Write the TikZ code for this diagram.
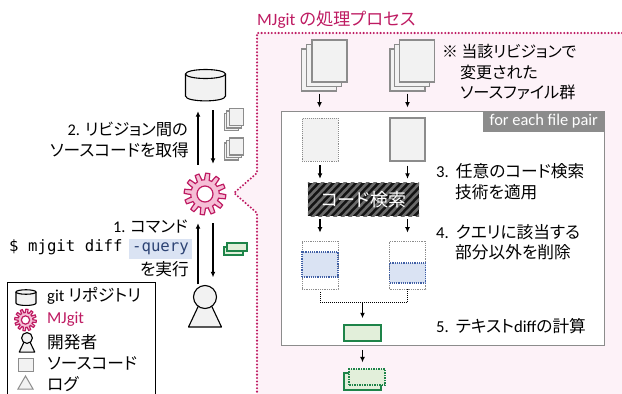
\documentclass[tikz,border=0pt]{standalone}
\usepackage{fontspec}
\setmainfont{Carlito}
\setmonofont{DejaVu Sans Mono}
\newfontfamily\jp[RawFeature=+palt]{Noto Sans CJK JP}
\usetikzlibrary{arrows.meta,shapes.geometric}
\definecolor{mjpink}{HTML}{BE1B62}
\definecolor{gearfill}{HTML}{F5BFD6}
\definecolor{procbg}{HTML}{FDF2F8}
\definecolor{docgray}{HTML}{8C8C8C}
\definecolor{docfill}{HTML}{F2F2F2}
\definecolor{qblue}{HTML}{3F5FA5}
\definecolor{qfill}{HTML}{DAE3F3}
\definecolor{dgreen}{HTML}{1E8449}
\definecolor{dfill}{HTML}{E2EFDA}
\tikzset{
	arr/.style={-{Latex[length=5.5pt,width=5pt]},line width=1.1pt},
	txt/.style={font=\fontsize{16.7}{18}\selectfont\jp,anchor=west,inner sep=0pt},
	txtr/.style={txt,anchor=east},
	docbox/.style={draw=docgray,fill=docfill,line width=1.1pt,minimum width=35pt,minimum height=42pt,inner sep=0pt},
	tinybox/.style={draw=docgray,fill=docfill,line width=1.4pt,minimum width=14.5pt,minimum height=17pt,inner sep=0pt},
	holedoc/.style={draw=docgray,densely dotted,line width=.8pt,minimum width=36pt,minimum height=48pt,inner sep=0pt},
	hitbox/.style={draw=qblue,fill=qfill,line width=1.2pt,densely dotted,minimum width=36pt,inner sep=0pt},
	diffbox/.style={draw=dgreen,fill=dfill,line width=1.5pt,inner sep=0pt},
	dbicon/.pic={
		\draw[fill=docfill,line width=1.1pt] (-20,-11) -- (-20,11) .. controls (-20,17.5) and (20,17.5) .. (20,11) -- (20,-11);
		\draw[fill=docfill,line width=1.1pt] (0,-11) ellipse[x radius=20,y radius=4.5];
	},
	gearicon/.pic={
		\draw[draw=mjpink,fill=gearfill,line width=1.2pt] plot[domain=0:360,samples=361,variable=\a] (\a:{17.5+3.3*max(-1,min(1,2.5*sin(12*\a)))}) -- cycle;
		\draw[draw=mjpink,fill=white,line width=1.2pt] (0,0) circle[radius=8];
	},
	personicon/.pic={
		\draw[fill=docfill,line width=1.1pt,line join=round] (0,-5) -- (16.5,30) -- (-16.5,30) -- cycle;
		\draw[fill=docfill,line width=1.1pt] (0,0) circle[radius=11.5];
	},
}
\begin{document}
\begin{tikzpicture}[x=1pt,y=-1pt]
\useasboundingbox (0,0) rectangle (622,394);
% process area
\fill[procbg] (257,33) -- (622,33) -- (622,394) -- (257,394) -- (257,213) -- (234,193) -- (257,173) -- cycle;
\draw[mjpink,line width=2.3pt,line cap=round,dash pattern=on 0pt off 3.4pt] (622,33) -- (257,33) -- (257,173) -- (234,193) -- (257,213) -- (257,394);
\node[anchor=west,inner sep=0pt,text=mjpink,font=\fontsize{17.3}{20}\selectfont] (proctitle) at (257,20) {MJgit {\jp の処理プロセス}};

% source files
\node[docbox] (srcAc) at (319,70) {};
\node[docbox] (srcAb) at (324,65.5) {};
\node[docbox] (srcAa) at (329.5,61) {};
\node[docbox] (srcBc) at (407.5,70) {};
\node[docbox] (srcBb) at (412,65.5) {};
\node[docbox] (srcBa) at (417,61) {};
\node[txt,font=\fontsize{15.8}{18}\selectfont\jp] (note1) at (442,52) {※ 当該リビジョンで};
\node[txt,font=\fontsize{16}{18}\selectfont\jp] (note2) at (460,72) {変更された};
\node[txt,font=\fontsize{16.2}{18}\selectfont\jp] (note3) at (460,92) {ソースファイル群};

% for each file pair
\node[draw=docgray,fill=white,line width=1pt,minimum width=323pt,minimum height=234pt,inner sep=0pt] (pairbox) at (442.5,228) {};
\node[anchor=north east,fill=docgray,text=white,minimum width=121pt,minimum height=21pt,inner sep=0pt,font=\fontsize{16.4}{18}\selectfont] (pairtag) at (pairbox.north east) {for each file pair};
\draw[arr,shorten >=3pt] ([xshift=.5pt,yshift=-2pt]srcAc.south) -- ([xshift=.5pt]pairbox.north -| srcAc);
\draw[arr,shorten >=3pt] ([yshift=-2pt]srcBc.south) -- (pairbox.north -| srcBc);
\node[docbox,densely dotted,line width=.8pt,minimum height=43pt,minimum width=36pt] (oldfile) at (320,139.5) {};
\node[docbox,minimum height=43pt] (newfile) at (407.5,139.5) {};

% code search
\node[minimum width=111pt,minimum height=33pt,fill=black!92,inner sep=0pt] (search) at (363.5,199.5) {};
\begin{scope}
\clip (search.south west) rectangle (search.north east);
\foreach \i in {0,7.5,...,165}
	\draw[black!58,line width=2.6pt] (270+\i,222) -- (310+\i,180);
\end{scope}
\node[text=white,font=\fontsize{18}{20}\selectfont\jp,inner sep=0pt] (searchlabel) at (search) {コード検索};
\draw[arr,shorten <=4pt,shorten >=4pt] (oldfile.south) -- (oldfile.south |- search.north);
\draw[arr,shorten <=4pt,shorten >=4pt] (newfile.south) -- (newfile.south |- search.north);
\node[txt] (step3a) at (436,171) {{\rmfamily 3.}\hspace{2pt} 任意のコード検索};
\node[txt] (step3b) at (455,192) {技術を適用};

% hits
\node[holedoc] (oldhole) at (320,265) {};
\node[holedoc] (newhole) at (407.5,265) {};
\node[hitbox,minimum height=25pt] (oldhit) at (320,264.5) {};
\node[hitbox,minimum height=20pt] (newhit) at (407.5,273) {};
\draw[arr,shorten <=3pt,shorten >=8pt] (search.south -| oldhole) -- (oldhole.north);
\draw[arr,shorten <=3pt,shorten >=8pt] (search.south -| newhole) -- (newhole.north);
\node[txt] (step4a) at (436,232) {{\rmfamily 4.}\hspace{2pt} クエリに該当する};
\node[txt] (step4b) at (455,252) {部分以外を削除};

% diff
\node[diffbox,minimum width=37pt,minimum height=16pt] (diffout) at (362.5,333) {};
\coordinate (joinA) at (320,302.5);
\coordinate (joinB) at (407.5,302.5);
\coordinate (joinM) at (362.5,302.5);
\draw[line width=1pt,densely dotted,shorten <=3pt] (oldhole.south) -- (joinA) -- (joinB) -- (newhole.south);
\draw[arr,shorten >=6pt] (joinM) -- (diffout.north);
\node[txt] (step5) at (436,326) {{\rmfamily 5.}\hspace{2pt} テキスト{\rmfamily diff}の計算};
\node[diffbox,minimum width=37pt,minimum height=17pt] (logback) at (362.5,381.5) {};
\node[diffbox,densely dotted,line width=1.2pt,minimum width=36pt,minimum height=16pt] (logfront) at (367,377) {};
\draw[arr,shorten <=8pt,shorten >=6pt] (diffout.south) -- (diffout.south |- logfront.north);

% left side
\node[minimum width=41pt,minimum height=32pt,inner sep=0pt] (db) at (205.5,85) {};
\pic at (db) {dbicon};
\node[circle,minimum size=42pt,inner sep=0pt] (gear) at (205,194) {};
\pic at (gear) {gearicon};
\node[minimum width=33pt,minimum height=41pt,inner sep=0pt] (dev) at (205.5,306) {};
\pic at (205,297) {personicon};
\draw[arr,shorten <=8pt,shorten >=10pt] ([xshift=-7pt]gear.north) -- ([xshift=-7.5pt]db.south);
\draw[arr,shorten <=9pt,shorten >=9pt] ([xshift=7.5pt]db.south) -- ([xshift=8pt]gear.north);
\draw[arr,shorten <=1pt,shorten >=8pt] ([xshift=-7.5pt]dev.north) -- ([xshift=-7pt]gear.south);
\draw[arr,shorten <=8pt,shorten >=8pt] ([xshift=8pt]gear.south) -- ([xshift=7.5pt]dev.north);

\node[tinybox] (logAc) at (231.5,122) {};
\node[tinybox] (logAb) at (234,119.5) {};
\node[tinybox] (logAa) at (236.5,117) {};
\node[tinybox] (logBc) at (231.5,151.5) {};
\node[tinybox] (logBb) at (234,149) {};
\node[tinybox] (logBa) at (236.5,146.5) {};
\node[diffbox,line width=1.2pt,minimum width=19pt,minimum height=8pt] (cmdback) at (233.5,251) {};
\node[diffbox,line width=1.2pt,minimum width=20pt,minimum height=8pt] (cmdfront) at (237,247) {};

\node[txtr,font=\fontsize{16.3}{18}\selectfont\jp] (fetch1) at (188,129) {{\rmfamily 2.} リビジョン間の};
\node[txtr] (fetch2) at (189,150) {ソースコードを取得};
\node[txtr,font=\fontsize{16.3}{18}\selectfont\jp] (cmd1) at (188,227) {{\rmfamily 1.} コマンド};
\node[fill=qfill,minimum width=63pt,minimum height=20pt,inner sep=0pt,text=qblue!70!black,font=\fontsize{15.7}{17}\ttfamily] (query) at (160.5,249) {-query};
\node[anchor=west,inner sep=0pt,font=\fontsize{15.7}{17}\ttfamily] (cmd2) at (9,247) {\$ mjgit diff};
\node[txtr] (cmd3) at (189,269) {を実行};

% legend
\node[draw,line width=1pt,anchor=north west,minimum width=148.5pt,minimum height=130pt,inner sep=0pt] (legend) at (6.5,282) {};
\node[minimum width=20pt,minimum height=15pt,inner sep=0pt] (legdb) at (26,297.5) {};
\pic[scale=.5] at (legdb) {dbicon};
\node[circle,minimum size=22pt,inner sep=0pt] (leggear) at (25.5,320) {};
\pic[scale=.52] at (leggear) {gearicon};
\pic[scale=.47] at (27,338) {personicon};
\node[minimum width=15pt,minimum height=13pt,draw=docgray,fill=docfill,line width=1pt,inner sep=0pt] (legsrc) at (25.5,364.5) {};
\node[regular polygon,regular polygon sides=3,draw=docgray,fill=docfill,line width=1pt,minimum size=17.5pt,inner sep=0pt] (leglog) at (25.5,384.7) {};
\node[txt] (legtxt1) at (47,296) {{\rmfamily git} リポジトリ};
\node[txt,text=mjpink] (legtxt2) at (47,319) {{\rmfamily MJgit}};
\node[txt] (legtxt3) at (47,342) {開発者};
\node[txt] (legtxt4) at (47,363) {ソースコード};
\node[txt] (legtxt5) at (47,384) {ログ};
\end{tikzpicture}
\end{document}
